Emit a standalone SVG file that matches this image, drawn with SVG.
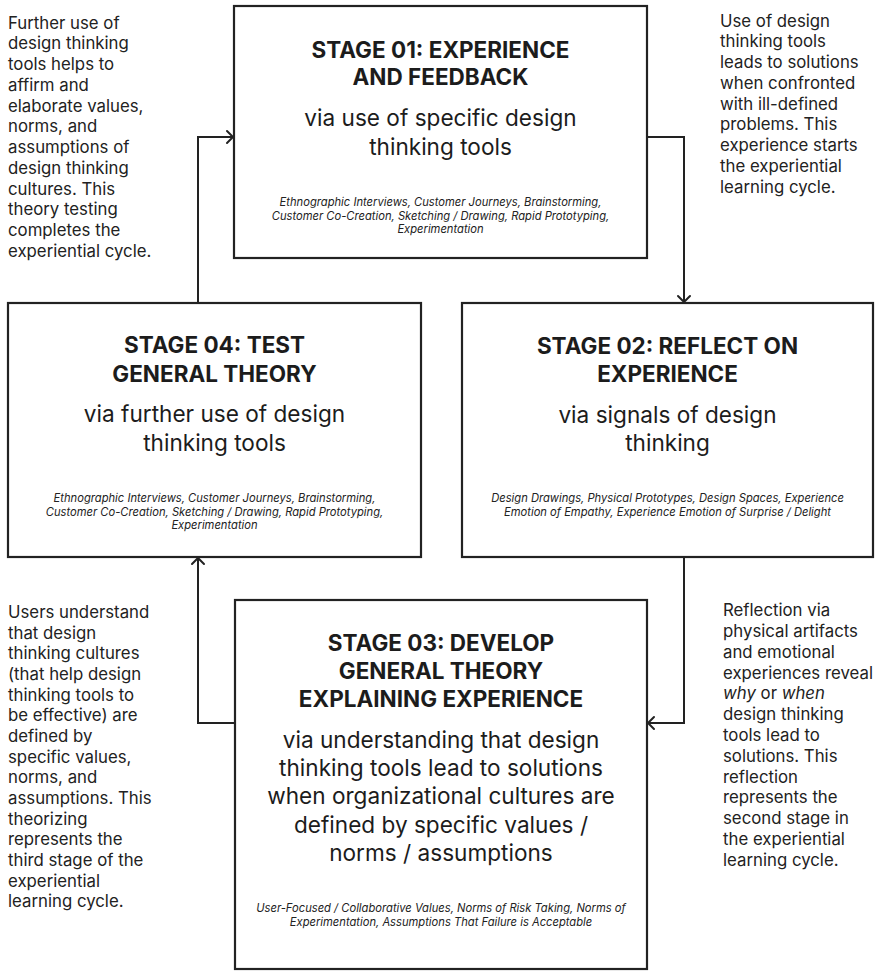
<svg xmlns="http://www.w3.org/2000/svg" width="876" height="971" viewBox="0 0 876 971">
  <defs>
    <style>
      .box { fill: #ffffff; stroke: #222222; stroke-width: 2.2; }
      .wire { fill: none; stroke: #222222; stroke-width: 2; }
      .head { fill: none; stroke: #222222; stroke-width: 2; stroke-linecap: round; stroke-linejoin: miter; }
      .title { font-family: Inter, "Liberation Sans", sans-serif; font-weight: 700; font-size: 22.5px; fill: #1c1c1c; text-anchor: middle; }
      .sub { font-family: Inter, "Liberation Sans", sans-serif; font-weight: 400; font-size: 22.6px; fill: #1c1c1c; text-anchor: middle; }
      .tools { font-family: Inter, "Liberation Sans", sans-serif; font-style: italic; font-size: 11.2px; fill: #222222; text-anchor: middle; }
      .note { font-family: Inter, "Liberation Sans", sans-serif; font-size: 16.8px; fill: #222222; }
    </style>
  </defs>

  <rect width="876" height="971" fill="#ffffff"/>

  <!-- connectors -->
  <g id="connectors">
    <polyline class="wire" points="198,303 198,137 233,137"/>
    <polyline class="head" points="227,131 233,137 227,143"/>
    <polyline class="wire" points="647,137 684,137 684,302"/>
    <polyline class="head" points="678,296 684,302 690,296"/>
    <polyline class="wire" points="684,557 684,723 648,723"/>
    <polyline class="head" points="654,717 648,723 654,729"/>
    <polyline class="wire" points="235,723 198,723 198,558"/>
    <polyline class="head" points="192,564 198,558 204,564"/>
  </g>

  <!-- stage 01 -->
  <g id="stage01">
    <rect class="box" x="234" y="6" width="413" height="252"/>
    <text class="title" x="440.5" y="58.2">STAGE 01: EXPERIENCE</text>
    <text class="title" x="440.5" y="85.2">AND FEEDBACK</text>
    <text class="sub" x="440.5" y="126">via use of specific design</text>
    <text class="sub" x="440.5" y="155">thinking tools</text>
    <text class="tools" x="440.5" y="206.2">Ethnographic Interviews, Customer Journeys, Brainstorming,</text>
    <text class="tools" x="440.5" y="219.7">Customer Co-Creation, Sketching / Drawing, Rapid Prototyping,</text>
    <text class="tools" x="440.5" y="233.2">Experimentation</text>
  </g>

  <!-- stage 02 -->
  <g id="stage02">
    <rect class="box" x="462" y="303" width="411" height="254"/>
    <text class="title" x="667.5" y="354.2">STAGE 02: REFLECT ON</text>
    <text class="title" x="667.5" y="382.2">EXPERIENCE</text>
    <text class="sub" x="667.5" y="423">via signals of design</text>
    <text class="sub" x="667.5" y="451">thinking</text>
    <text class="tools" x="667.5" y="502.2">Design Drawings, Physical Prototypes, Design Spaces, Experience</text>
    <text class="tools" x="667.5" y="515.7">Emotion of Empathy, Experience Emotion of Surprise / Delight</text>
  </g>

  <!-- stage 03 -->
  <g id="stage03">
    <rect class="box" x="235" y="600" width="412" height="369"/>
    <text class="title" x="441" y="651.2">STAGE 03: DEVELOP</text>
    <text class="title" x="441" y="678.9">GENERAL THEORY</text>
    <text class="title" x="441" y="706.6">EXPLAINING EXPERIENCE</text>
    <text class="sub" x="441" y="748">via understanding that design</text>
    <text class="sub" x="441" y="776.2">thinking tools lead to solutions</text>
    <text class="sub" x="441" y="804.4">when organizational cultures are</text>
    <text class="sub" x="441" y="832.6">defined by specific values /</text>
    <text class="sub" x="441" y="860.8">norms / assumptions</text>
    <text class="tools" x="441" y="912.2">User-Focused / Collaborative Values, Norms of Risk Taking, Norms of</text>
    <text class="tools" x="441" y="925.7">Experimentation, Assumptions That Failure is Acceptable</text>
  </g>

  <!-- stage 04 -->
  <g id="stage04">
    <rect class="box" x="8" y="303" width="413" height="254"/>
    <text class="title" x="214.5" y="353.2">STAGE 04: TEST</text>
    <text class="title" x="214.5" y="382.2">GENERAL THEORY</text>
    <text class="sub" x="214.5" y="422">via further use of design</text>
    <text class="sub" x="214.5" y="451">thinking tools</text>
    <text class="tools" x="214.5" y="502.2">Ethnographic Interviews, Customer Journeys, Brainstorming,</text>
    <text class="tools" x="214.5" y="515.7">Customer Co-Creation, Sketching / Drawing, Rapid Prototyping,</text>
    <text class="tools" x="214.5" y="529.2">Experimentation</text>
  </g>

  <!-- side notes -->
  <g id="note-testing">
    <text class="note" x="8" y="28.6">
      <tspan x="8">Further use of</tspan>
      <tspan x="8" dy="20.75">design thinking</tspan>
      <tspan x="8" dy="20.75">tools helps to</tspan>
      <tspan x="8" dy="20.75">affirm and</tspan>
      <tspan x="8" dy="20.75">elaborate values,</tspan>
      <tspan x="8" dy="20.75">norms, and</tspan>
      <tspan x="8" dy="20.75">assumptions of</tspan>
      <tspan x="8" dy="20.75">design thinking</tspan>
      <tspan x="8" dy="20.75">cultures. This</tspan>
      <tspan x="8" dy="20.75">theory testing</tspan>
      <tspan x="8" dy="20.75">completes the</tspan>
      <tspan x="8" dy="20.75">experiential cycle.</tspan>
    </text>
  </g>

  <g id="note-experience">
    <text class="note" x="720" y="26.6">
      <tspan x="720">Use of design</tspan>
      <tspan x="720" dy="20.75">thinking tools</tspan>
      <tspan x="720" dy="20.75">leads to solutions</tspan>
      <tspan x="720" dy="20.75">when confronted</tspan>
      <tspan x="720" dy="20.75">with ill-defined</tspan>
      <tspan x="720" dy="20.75">problems. This</tspan>
      <tspan x="720" dy="20.75">experience starts</tspan>
      <tspan x="720" dy="20.75">the experiential</tspan>
      <tspan x="720" dy="20.75">learning cycle.</tspan>
    </text>
  </g>

  <g id="note-theorizing">
    <text class="note" x="8" y="618.1">
      <tspan x="8">Users understand</tspan>
      <tspan x="8" dy="20.65">that design</tspan>
      <tspan x="8" dy="20.65">thinking cultures</tspan>
      <tspan x="8" dy="20.65">(that help design</tspan>
      <tspan x="8" dy="20.65">thinking tools to</tspan>
      <tspan x="8" dy="20.65">be effective) are</tspan>
      <tspan x="8" dy="20.65">defined by</tspan>
      <tspan x="8" dy="20.65">specific values,</tspan>
      <tspan x="8" dy="20.65">norms, and</tspan>
      <tspan x="8" dy="20.65">assumptions. This</tspan>
      <tspan x="8" dy="20.65">theorizing</tspan>
      <tspan x="8" dy="20.65">represents the</tspan>
      <tspan x="8" dy="20.65">third stage of the</tspan>
      <tspan x="8" dy="20.65">experiential</tspan>
      <tspan x="8" dy="20.65">learning cycle.</tspan>
    </text>
  </g>

  <g id="note-reflection">
    <text class="note" x="723" y="616.1">
      <tspan x="723">Reflection via</tspan>
      <tspan x="723" dy="20.8">physical artifacts</tspan>
      <tspan x="723" dy="20.8">and emotional</tspan>
      <tspan x="723" dy="20.8">experiences reveal</tspan>
      <tspan x="723" dy="20.8" font-style="italic">why</tspan><tspan> or </tspan><tspan font-style="italic">when</tspan>
      <tspan x="723" dy="20.8">design thinking</tspan>
      <tspan x="723" dy="20.8">tools lead to</tspan>
      <tspan x="723" dy="20.8">solutions. This</tspan>
      <tspan x="723" dy="20.8">reflection</tspan>
      <tspan x="723" dy="20.8">represents the</tspan>
      <tspan x="723" dy="20.8">second stage in</tspan>
      <tspan x="723" dy="20.8">the experiential</tspan>
      <tspan x="723" dy="20.8">learning cycle.</tspan>
    </text>
  </g>
</svg>
